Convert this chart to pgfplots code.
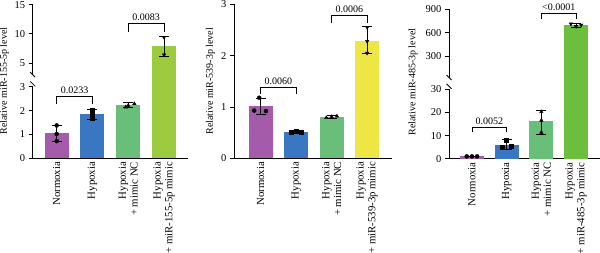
\documentclass[border=0pt]{standalone}
\usepackage{fontspec}
\setmainfont{Liberation Serif}
\usepackage{pgfplots}
\pgfplotsset{compat=1.18}

\definecolor{cNorm}{HTML}{A45BAA}
\definecolor{cHyp}{HTML}{3A77C2}
\definecolor{cNC}{HTML}{69BF7A}
\definecolor{cMimA}{HTML}{9CCB3F}
\definecolor{cMimB}{HTML}{EEE645}
\definecolor{cMimC}{HTML}{6CBF3E}

\tikzset{plabel/.style={pos=0.5, above, inner sep=2pt, font=\fontsize{10}{11}\selectfont}}

\pgfplotsset{
  panel/.style={
    scale only axis, clip=false,
    axis x line*=bottom, axis y line*=left,
    axis line style={-, line width=0.8pt},
    xtick={0,1,2,3}, xtick style={draw=none},
    ytick align=outside, ytick style={line width=0.8pt, black},
    major tick length=4pt,
    ymin=0,
    /pgf/number format/assume math mode=true,
    yticklabel style={font=\fontsize{10.5}{11.5}\selectfont},
    xticklabel style={rotate=90, anchor=east, align=right,
      font=\fontsize{10.8}{11.8}\selectfont},
    ylabel style={font=\fontsize{10}{11}\selectfont, anchor=center},
  },
  bar/.style={ybar, bar width=24pt, bar shift=0pt, draw=none, fill=#1},
  err/.style={black, line width=0.8pt, mark=-, mark size=5pt,
    mark options={line width=0.8pt}},
  pts/.style={only marks, black, mark=#1, mark size=2pt},
  bracket/.style={black, line width=0.6pt, mark=none},
}

\begin{document}
\begin{tikzpicture}
\useasboundingbox (0,0) rectangle (600pt,253pt);

% ---------------- miR-155-5p (broken axis: 0-3 | 3-15) ----------------
\begin{axis}[panel,
  at={(32.7pt,94.7pt)}, anchor=south west,
  width=155.3pt, height=153.6pt,
  xmin=-0.67, xmax=3.67, ymax=15,
  y coord trafo/.code={\pgfmathparse{#1>3.0005 ? 3.51+(#1-3)*0.245 : #1}},
  y axis line style={draw=none},
  ytick={0,1,2,3,5,10,15}, yticklabels={0,1,2,3,5,10,15},
  xticklabels={Normoxia, Hypoxia, {Hypoxia\\+ mimic NC}, {Hypoxia\\+ miR-155-5p mimic}},
  ylabel={Relative miR-155-5p level},
  ylabel style={at={(axis description cs:-0.182,0.503)}},
]
\addplot[bar=cNorm] coordinates {(0,1.05)};
\addplot[bar=cHyp]  coordinates {(1,1.85)};
\addplot[bar=cNC]   coordinates {(2,2.22)};
\addplot[bar=cMimA] coordinates {(3,7.90)};
\addplot[err] coordinates {(0,0.70) (0,1.40)};
\addplot[err] coordinates {(1,1.65) (1,2.06)};
\addplot[err] coordinates {(2,2.12) (2,2.33)};
\addplot[err] coordinates {(3,6.17) (3,9.65)};
\addplot[pts=*] coordinates {(0,1.38) (0,1.02) (0,0.72)};
\addplot[pts=square*] coordinates {(1,2.00) (1,1.87) (1,1.67)};
\addplot[pts=triangle*] coordinates {(1.93,2.15) (2.0,2.22) (2.17,2.29)};
\addplot[pts=triangle*, mark options={rotate=180}] coordinates {(3,9.4) (3,6.4)};
\addplot[bracket] coordinates {(0,2.27) (0,2.60) (1,2.60) (1,2.27)} node[plabel] {0.0233};
\addplot[bracket] coordinates {(2,10.3) (2,11.8) (3,11.8) (3,10.3)} node[plabel] {0.0083};
% broken y axis line
\draw[line width=0.8pt] (axis cs:-0.67,0) -- (axis cs:-0.67,3);
\draw[line width=0.8pt] (axis cs:-0.67,3.01) -- (axis cs:-0.67,15);
\draw[line width=0.8pt] ([shift={(-2.5pt,2.5pt)}]axis cs:-0.67,3.01) -- ([shift={(2.5pt,-2.5pt)}]axis cs:-0.67,3.01);
\draw[line width=0.8pt] ([shift={(-2.5pt,5.5pt)}]axis cs:-0.67,3) -- ([shift={(2.5pt,0.5pt)}]axis cs:-0.67,3);
\end{axis}

% ---------------- miR-539-3p ----------------
\begin{axis}[panel,
  at={(234pt,94.7pt)}, anchor=south west,
  width=158pt, height=154pt,
  xmin=-0.75, xmax=3.7, ymax=3,
  ytick={0,1,2,3},
  xticklabels={Normoxia, Hypoxia, {Hypoxia\\+ mimic NC}, {Hypoxia\\+ miR-539-3p mimic}},
  ylabel={Relative miR-539-3p level},
  ylabel style={at={(axis description cs:-0.149,0.5)}},
]
\addplot[bar=cNorm] coordinates {(0,1.01)};
\addplot[bar=cHyp]  coordinates {(1,0.51)};
\addplot[bar=cNC]   coordinates {(2,0.80)};
\addplot[bar=cMimB] coordinates {(3,2.29)};
\addplot[err] coordinates {(0,0.86) (0,1.16)};
\addplot[err] coordinates {(1,0.48) (1,0.55)};
\addplot[err] coordinates {(2,0.77) (2,0.84)};
\addplot[err] coordinates {(3,2.04) (3,2.56)};
\addplot[pts=*] coordinates {(-0.18,0.93) (-0.04,1.18) (0.15,0.92)};
\addplot[pts=square*] coordinates {(0.85,0.50) (1.0,0.53) (1.15,0.51)};
\addplot[pts=triangle*] coordinates {(1.85,0.79) (2.0,0.81) (2.15,0.82)};
\addplot[pts=triangle*, mark options={rotate=180}] coordinates {(3,2.55) (3,2.28) (3,2.05)};
\addplot[bracket] coordinates {(0,1.25) (0,1.39) (1,1.39) (1,1.25)} node[plabel] {0.0060};
\addplot[bracket] coordinates {(2,2.63) (2,2.79) (3,2.79) (3,2.63)} node[plabel] {0.0006};
\end{axis}

% ---------------- miR-485-3p (broken axis: 0-30 | 30-900) ----------------
\begin{axis}[panel,
  at={(449pt,94.3pt)}, anchor=south west,
  width=151pt, height=149.4pt,
  xmin=-0.66, xmax=3.69, ymax=900,
  y coord trafo/.code={\pgfmathparse{#1>30.001 ? 35.1+(#1-30)*0.0339 : #1}},
  y axis line style={draw=none},
  ytick={0,10,20,30,300,600,900}, yticklabels={0,10,20,30,300,600,900},
  xticklabels={Normoxia, Hypoxia, {Hypoxia\\+ mimic NC}, {Hypoxia\\+ miR-485-3p mimic}},
  ylabel={Relative miR-485-3p level},
  ylabel style={at={(axis description cs:-0.238,0.513)}},
]
\addplot[bar=cNorm] coordinates {(0,1.0)};
\addplot[bar=cHyp]  coordinates {(1,6.0)};
\addplot[bar=cNC]   coordinates {(2,16.1)};
\addplot[bar=cMimC] coordinates {(3,695)};
\addplot[err] coordinates {(0,0.9) (0,1.1)};
\addplot[err] coordinates {(1,4.1) (1,8.2)};
\addplot[err] coordinates {(2,10.3) (2,20.8)};
\addplot[err] coordinates {(3,668) (3,720)};
\addplot[pts=*] coordinates {(-0.15,1.0) (0,1.0) (0.15,1.0)};
\addplot[pts=square*] coordinates {(0.88,5.0) (1.0,7.8) (1.12,5.3)};
\addplot[pts=triangle*] coordinates {(2,20.3) (2,16.6) (2,11.4)};
\addplot[pts=triangle*, mark options={rotate=180}] coordinates {(2.85,715) (3.0,682) (3.15,700)};
\addplot[bracket] coordinates {(0,11.5) (0,13.7) (1,13.7) (1,11.5)} node[plabel] {0.0052};
\addplot[bracket] coordinates {(2,775) (2,850) (3,850) (3,775)} node[plabel] {<0.0001};
% broken y axis line
\draw[line width=0.8pt] (axis cs:-0.66,0) -- (axis cs:-0.66,30);
\draw[line width=0.8pt] (axis cs:-0.66,30.01) -- (axis cs:-0.66,900);
\draw[line width=0.8pt] ([shift={(-2.5pt,2.5pt)}]axis cs:-0.66,30.01) -- ([shift={(2.5pt,-2.5pt)}]axis cs:-0.66,30.01);
\draw[line width=0.8pt] ([shift={(-2.5pt,5.5pt)}]axis cs:-0.66,30) -- ([shift={(2.5pt,0.5pt)}]axis cs:-0.66,30);
\end{axis}
\end{tikzpicture}
\end{document}
